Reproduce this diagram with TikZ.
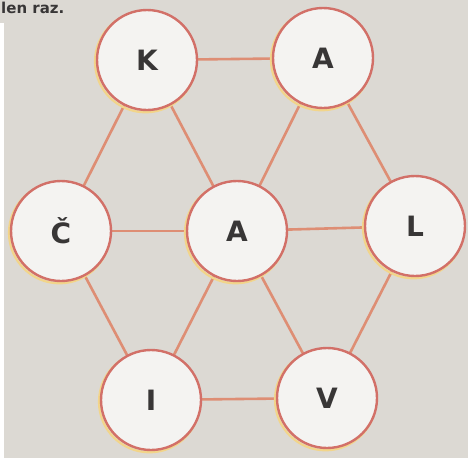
\documentclass[tikz,border=0pt]{standalone}
\usepackage{fontspec}
\setmainfont{DejaVu Sans}
\pgfdeclarelayer{bglayer}
\pgfdeclarelayer{edgelayer}
\pgfsetlayers{bglayer,edgelayer,main}
\begin{document}
\begin{tikzpicture}[x=1pt,y=-1pt,
  letter/.style={circle,minimum size=100pt,inner sep=0pt,fill=circfill,draw=circline,line width=2.4pt,
     font=\fontsize{28}{28}\selectfont\bfseries,text=txt},
  glow/.style={circle,minimum size=101pt,inner sep=0pt,draw=glowc,line width=2.2pt},
  conn/.style={draw=lnc,line width=2.6pt}]
\definecolor{bg}{HTML}{DCD9D3}
\definecolor{circfill}{HTML}{F4F3F1}
\definecolor{circline}{HTML}{D27068}
\definecolor{glowc}{HTML}{F2D58A}
\definecolor{lnc}{HTML}{DE8E74}
\definecolor{txt}{HTML}{383636}
\useasboundingbox (0,0) rectangle (468,458);
\node[letter] (K) at (147,60) {K};
\node[letter] (A1) at (323,58) {A};
\node[letter] (C) at (61,231) {Č};
\node[letter] (A2) at (237,231) {A};
\node[letter] (L) at (415,226) {L};
\node[letter] (I) at (151,400) {I};
\node[letter] (V) at (327,398) {V};
\begin{pgfonlayer}{bglayer}
\fill[bg] (0,0) rectangle (468,458);
\fill[white] (0,23) rectangle (4,458);
\node[anchor=base west,font=\fontsize{15}{15}\selectfont\bfseries,text=txt,inner sep=0pt] (hdr) at (1,13) {len raz.};
\end{pgfonlayer}
\begin{pgfonlayer}{edgelayer}
\foreach \a/\b in {K/A1,K/C,K/A2,A1/A2,A1/L,C/A2,A2/L,C/I,A2/I,A2/V,L/V,I/V}
  \draw[conn] (\a.center) -- (\b.center);
\foreach \n in {K,A1,C,A2,L,I,V}
  \node[glow] at ([shift={(-1.5,1.8)}]\n.center) {};
\end{pgfonlayer}
\end{tikzpicture}
\end{document}
